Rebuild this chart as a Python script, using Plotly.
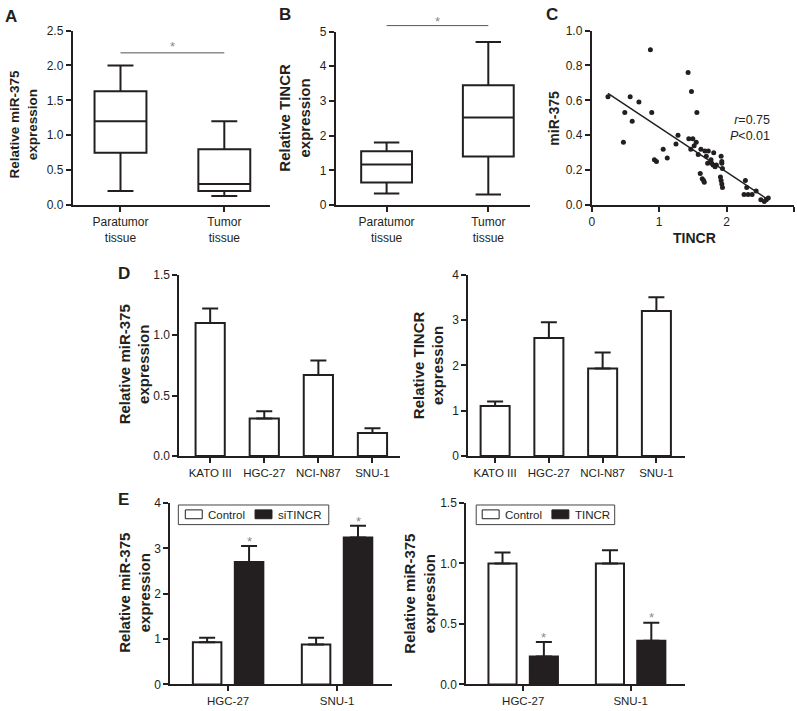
import plotly.graph_objects as go

W, H = 797, 711
DARK = "#231f20"
STAR = "#8a8a8a"
FONT = "Arial, Liberation Sans, sans-serif"

# ---- data ----
TISSUE = ["Paratumor<br>tissue", "Tumor<br>tissue"]
A_LOW = [0.20, 0.13]
A_Q1 = [0.75, 0.20]
A_MED = [1.20, 0.30]
A_Q3 = [1.63, 0.80]
A_HIGH = [2.00, 1.20]

B_LOW = [0.33, 0.30]
B_Q1 = [0.65, 1.40]
B_MED = [1.17, 2.52]
B_Q3 = [1.55, 3.45]
B_HIGH = [1.80, 4.70]

TINCR_X = [0.24, 0.47, 0.49, 0.57, 0.60, 0.70, 0.87, 0.89, 0.93, 0.96,
           1.06, 1.12, 1.25, 1.28, 1.43, 1.44, 1.48, 1.50, 1.47, 1.52,
           1.55, 1.56, 1.58, 1.61, 1.62, 1.64, 1.66, 1.67, 1.68, 1.70,
           1.72, 1.73, 1.77, 1.78, 1.80, 1.81, 1.83, 1.85, 1.92, 1.93,
           1.93, 1.94, 1.92, 1.93, 1.94, 1.91, 2.28, 2.26, 2.30, 2.32,
           2.38, 2.44, 2.51, 2.56, 2.59, 2.62]
MIR_Y = [0.62, 0.36, 0.53, 0.62, 0.48, 0.59, 0.89, 0.53, 0.26, 0.25,
         0.32, 0.27, 0.35, 0.40, 0.76, 0.38, 0.65, 0.38, 0.32, 0.34,
         0.36, 0.53, 0.29, 0.18, 0.32, 0.15, 0.14, 0.13, 0.31, 0.28,
         0.24, 0.31, 0.26, 0.24, 0.23, 0.30, 0.22, 0.23, 0.28, 0.25,
         0.24, 0.21, 0.14, 0.12, 0.10, 0.16, 0.14, 0.06, 0.10, 0.06,
         0.06, 0.08, 0.03, 0.02, 0.03, 0.04]
FIT_X = [0.24, 2.62]
FIT_Y = [0.64, 0.03]

CELLS = ["KATO III", "HGC-27", "NCI-N87", "SNU-1"]
D_MIR = [1.10, 0.31, 0.67, 0.19]
D_MIR_ERR = [0.12, 0.06, 0.12, 0.04]
D_TINCR = [1.10, 2.60, 1.93, 3.20]
D_TINCR_ERR = [0.10, 0.35, 0.35, 0.30]

E_CELLS = ["HGC-27", "SNU-1"]
E1_CTRL = [0.93, 0.88]
E1_CTRL_ERR = [0.10, 0.15]
E1_SI = [2.70, 3.24]
E1_SI_ERR = [0.35, 0.26]
E2_CTRL = [1.00, 1.00]
E2_CTRL_ERR = [0.09, 0.11]
E2_OE = [0.23, 0.36]
E2_OE_ERR = [0.12, 0.15]

BARGAP = 0.23
BARGROUPGAP = 0.32


def xdom(x0, x1):
    return [x0 / W, x1 / W]


def ydom(ybot, ytop):
    return [1 - ybot / H, 1 - ytop / H]


def paper_y(v, dom, rng):
    return dom[0] + (v - rng[0]) / (rng[1] - rng[0]) * (dom[1] - dom[0])


fig = go.Figure()

# A: box plot
fig.add_trace(go.Box(
    x=TISSUE, lowerfence=A_LOW, q1=A_Q1, median=A_MED, q3=A_Q3, upperfence=A_HIGH,
    width=0.5, whiskerwidth=0.5, fillcolor="white", line=dict(color=DARK, width=2),
    boxpoints=False, showlegend=False, hoverinfo="skip", xaxis="x", yaxis="y"))

# B: box plot
fig.add_trace(go.Box(
    x=TISSUE, lowerfence=B_LOW, q1=B_Q1, median=B_MED, q3=B_Q3, upperfence=B_HIGH,
    width=0.5, whiskerwidth=0.5, fillcolor="white", line=dict(color=DARK, width=2),
    boxpoints=False, showlegend=False, hoverinfo="skip", xaxis="x2", yaxis="y2"))

# C: scatter + fit
fig.add_trace(go.Scatter(
    x=TINCR_X, y=MIR_Y, mode="markers", marker=dict(color=DARK, size=5),
    showlegend=False, xaxis="x3", yaxis="y3"))
fig.add_trace(go.Scatter(
    x=FIT_X, y=FIT_Y, mode="lines", line=dict(color=DARK, width=1.5),
    showlegend=False, xaxis="x3", yaxis="y3"))


def err(vals):
    return dict(type="data", array=vals, arrayminus=[0] * len(vals), symmetric=False,
                color=DARK, thickness=2, width=8)


WHITE_BAR = dict(color="white", line=dict(color=DARK, width=2))
BLACK_BAR = dict(color=DARK, line=dict(color=DARK, width=2))

# D: bars
fig.add_trace(go.Bar(x=CELLS, y=D_MIR, width=0.54, marker=WHITE_BAR,
                     error_y=err(D_MIR_ERR), xaxis="x4", yaxis="y4"))
fig.add_trace(go.Bar(x=CELLS, y=D_TINCR, width=0.54, marker=WHITE_BAR,
                     error_y=err(D_TINCR_ERR), xaxis="x5", yaxis="y5"))

# E: grouped bars
fig.add_trace(go.Bar(x=E_CELLS, y=E1_CTRL, name="Control", marker=WHITE_BAR,
                     error_y=err(E1_CTRL_ERR), xaxis="x6", yaxis="y6"))
fig.add_trace(go.Bar(x=E_CELLS, y=E1_SI, name="siTINCR", marker=BLACK_BAR,
                     error_y=err(E1_SI_ERR), xaxis="x6", yaxis="y6"))
fig.add_trace(go.Bar(x=E_CELLS, y=E2_CTRL, name="Control", marker=WHITE_BAR,
                     error_y=err(E2_CTRL_ERR), xaxis="x7", yaxis="y7"))
fig.add_trace(go.Bar(x=E_CELLS, y=E2_OE, name="TINCR", marker=BLACK_BAR,
                     error_y=err(E2_OE_ERR), xaxis="x7", yaxis="y7"))

axis_style = dict(
    showline=True, linecolor=DARK, linewidth=2, ticks="outside", ticklen=5,
    tickwidth=2, tickcolor=DARK, showgrid=False, zeroline=False,
    tickfont=dict(family=FONT, size=12, color=DARK), fixedrange=True)

panels = {
    # name: (xdomain, ydomain, xrange, yrange, dtick, fmt)
    "": (xdom(70, 268), ydom(202, 24), [-0.46, 1.44], [0, 2.5], 0.5, ".1f"),
    "2": (xdom(334, 529), ydom(202, 25), [-0.5, 1.41], [0, 5], 1, "d"),
    "3": (xdom(591, 794), ydom(202, 24), [0, 3.002], [0, 1.0], 0.2, ".1f"),
    "4": (xdom(177, 398), ydom(458, 273), [-0.57, 3.5], [0, 1.5], 0.5, ".1f"),
    "5": (xdom(467, 685), ydom(458, 273), [-0.5, 3.54], [0, 4], 1, "d"),
    "6": (xdom(168, 390), ydom(691, 506), [-0.53, 1.5], [0, 4], 1, "d"),
    "7": (xdom(465, 685), ydom(691, 506), [-0.53, 1.51], [0, 1.5], 0.5, ".1f"),
}

layout_axes = {}
for k, (xd, yd, xr, yr, dt, fmt) in panels.items():
    xa = dict(axis_style, domain=xd, range=xr, anchor="y" + k)
    if k != "3":
        xa["type"] = "category"
    else:
        xa["dtick"] = 1
    if k in ("4", "5", "6", "7"):
        xa["tickfont"] = dict(family=FONT, size=11.5, color=DARK)
    ya = dict(axis_style, domain=yd, range=yr, anchor="x" + k, dtick=dt, tickformat=fmt)
    layout_axes["xaxis" + k] = xa
    layout_axes["yaxis" + k] = ya

fig.update_layout(**layout_axes)

shapes = []
annotations = []

# significance bars for A and B (bar in B sits above the axis top)
for k, val, sy in (("", 2.18, 2.27), ("2", 5.17, 5.30)):
    xd, yd, xr, yr, _, _ = panels[k]
    yp = paper_y(val, yd, yr)
    shapes.append(dict(type="line", xref="x" + k, yref="paper", x0=0, x1=1, y0=yp, y1=yp,
                       line=dict(color="#555555", width=1)))
    annotations.append(dict(text="*", x=0.5, y=paper_y(sy, yd, yr), xref="x" + k, yref="paper",
                            showarrow=False, xanchor="center", yanchor="middle",
                            font=dict(family=FONT, size=13, color=STAR)))


def ann(text, x, y, size=14, bold=True, angle=0, **kw):
    t = "<b>%s</b>" % text if bold else text
    d = dict(text=t, x=x / W, y=1 - y / H, xref="paper", yref="paper", showarrow=False,
             textangle=angle, font=dict(family=FONT, size=size, color=DARK),
             xanchor="center", yanchor="middle")
    d.update(kw)
    annotations.append(d)


# panel letters
for letter, px, py in (("A", 8, 10), ("B", 283, 8), ("C", 551, 8), ("D", 121, 272), ("E", 121, 502)):
    ann(letter, px, py, size=17)

# axis titles
ann("Relative miR-375<br>expression", 21, 119, size=13.5, angle=-90)
ann("Relative TINCR<br>expression", 293, 113, size=15, angle=-90)
ann("miR-375", 553, 113, size=14, angle=-90)
ann("TINCR", 694, 236, size=14)
ann("Relative miR-375<br>expression", 132, 365, size=15, angle=-90)
ann("Relative TINCR<br>expression", 427, 365, size=15, angle=-90)
ann("Relative miR-375<br>expression", 132, 598, size=15, angle=-90)
ann("Relative miR-375<br>expression", 418, 598, size=15, angle=-90)

# stats text in C
annotations.append(dict(text="<i>r</i>=0.75<br><i>P</i><0.01", x=2.68, y=0.44, xref="x3", yref="y3",
                        showarrow=False, xanchor="right", yanchor="middle", align="right",
                        font=dict(family=FONT, size=12.5, color=DARK)))


def star(x, y, k):
    annotations.append(dict(text="*", x=x, y=y, xref="x" + k, yref="y" + k, showarrow=False,
                            xanchor="center", yanchor="middle",
                            font=dict(family=FONT, size=13, color=STAR)))


shift = (1 - BARGAP) / 4
for i, (v, e) in enumerate(zip(E1_SI, E1_SI_ERR)):
    star(i + shift, v + e + 0.1, "6")
for i, (v, e) in enumerate(zip(E2_OE, E2_OE_ERR)):
    star(i + shift, v + e + 0.04, "7")


# keys for panel E (drawn as a boxed legend like the original)
def key(x0, x1, y0, y1, items):
    shapes.append(dict(type="rect", xref="paper", yref="paper", x0=x0 / W, x1=x1 / W,
                       y0=1 - y1 / H, y1=1 - y0 / H, line=dict(color="#444444", width=1),
                       fillcolor="white"))
    for sx, label, fill in items:
        shapes.append(dict(type="rect", xref="paper", yref="paper", x0=sx / W, x1=(sx + 17) / W,
                           y0=1 - (y0 + 14) / H, y1=1 - (y0 + 5) / H,
                           line=dict(color=DARK, width=1), fillcolor=fill))
        annotations.append(dict(text=label, x=(sx + 21) / W, y=1 - (y0 + 10) / H, xref="paper",
                                yref="paper", showarrow=False, xanchor="left", yanchor="middle",
                                font=dict(family=FONT, size=11.5, color=DARK)))


key(176, 327, 508, 528, [(183, "Control", "white"), (253, "siTINCR", DARK)])
key(475, 614, 508, 528, [(481, "Control", "white"), (551, "TINCR", DARK)])

fig.update_layout(
    width=W, height=H, margin=dict(l=0, r=0, t=0, b=0),
    paper_bgcolor="white", plot_bgcolor="white", showlegend=False,
    barmode="group", bargap=BARGAP, bargroupgap=BARGROUPGAP,
    shapes=shapes, annotations=annotations,
    font=dict(family=FONT, color=DARK),
)

fig.write_html("out.html", config={"displayModeBar": False},
               post_script="document.body.style.margin='0px';")
